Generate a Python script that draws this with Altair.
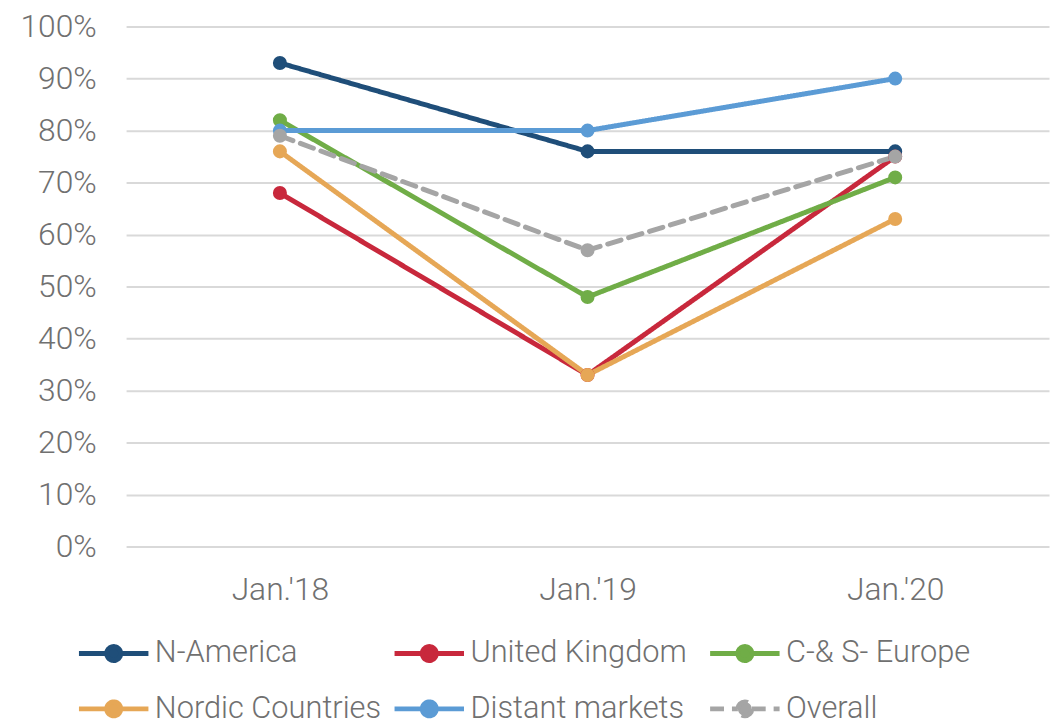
import altair as alt
import pandas as pd

periods = ["Jan.'18", "Jan.'19", "Jan.'20"]
series = ["N-America", "United Kingdom", "C-& S- Europe", "Nordic Countries", "Distant markets", "Overall"]
colors = ["#1f4e79", "#c8283c", "#70ad47", "#e6a756", "#5b9bd5", "#a5a5a5"]
dashes = [[1, 0], [1, 0], [1, 0], [1, 0], [1, 0], [14, 8]]

n_america = [93, 76, 76]
united_kingdom = [68, 33, 75]
cs_europe = [82, 48, 71]
nordic = [76, 33, 63]
distant = [80, 80, 90]
overall = [79, 57, 75]

values = [n_america, united_kingdom, cs_europe, nordic, distant, overall]
rows = []
for s, vals in zip(series, values):
    for p, v in zip(periods, vals):
        rows.append({"period": p, "series": s, "value": v / 100})
df = pd.DataFrame(rows)

FONT = "Roboto"
TXT = "#707070"

color_scale = alt.Scale(domain=series, range=colors)
dash_scale = alt.Scale(domain=series, range=dashes)

legend = alt.Legend(
    title=None, orient="none", legendX=-50, legendY=594,
    direction="horizontal", columns=3,
    symbolType="M-1,0H-0.2M0.2,0H1M-0.2,0A0.2,0.2 0 1,1 0.2,0A0.2,0.2 0 1,1 -0.2,0Z",
    symbolSize=4900, symbolStrokeWidth=5, labelFont=FONT, labelFontSize=31,
    labelFontWeight=300, labelColor=TXT, labelOffset=4, columnPadding=3,
    rowPadding=1, gridAlign="all", labelLimit=400,
)

x = alt.X("period:N", sort=periods, scale=alt.Scale(type="point", padding=0.5),
          axis=alt.Axis(title=None, labelAngle=0, domain=False, ticks=False, grid=False,
                        labelFont=FONT, labelFontSize=32, labelFontWeight=300,
                        labelColor=TXT, labelPadding=28))
y = alt.Y("value:Q", scale=alt.Scale(domain=[0, 1], nice=False),
          axis=alt.Axis(title=None, format=".0%", values=[i / 10 for i in range(11)],
                        domain=False, ticks=False, gridColor="#d9d9d9", gridWidth=2,
                        labelFont=FONT, labelFontSize=32, labelFontWeight=300,
                        labelColor=TXT, labelPadding=30))

base = alt.Chart(df)
lines = base.mark_line(strokeWidth=5, strokeCap="round").encode(
    x=x, y=y,
    color=alt.Color("series:N", scale=color_scale, sort=series, legend=legend),
    strokeDash=alt.StrokeDash("series:N", scale=dash_scale, sort=series, legend=legend),
    detail="series:N",
)
points = base.mark_point(filled=True, size=200, opacity=1).encode(
    x=x, y=y,
    color=alt.Color("series:N", scale=color_scale, sort=series, legend=legend),
)

chart = alt.layer(lines, points).properties(
    width=930, height=524,
    autosize=alt.AutoSizeParams(type="none"),
    padding={"left": 119, "top": 16, "right": 2, "bottom": 173},
).configure_view(stroke=None)

chart.save("out.html", embed_options={"renderer": "svg", "actions": False})
